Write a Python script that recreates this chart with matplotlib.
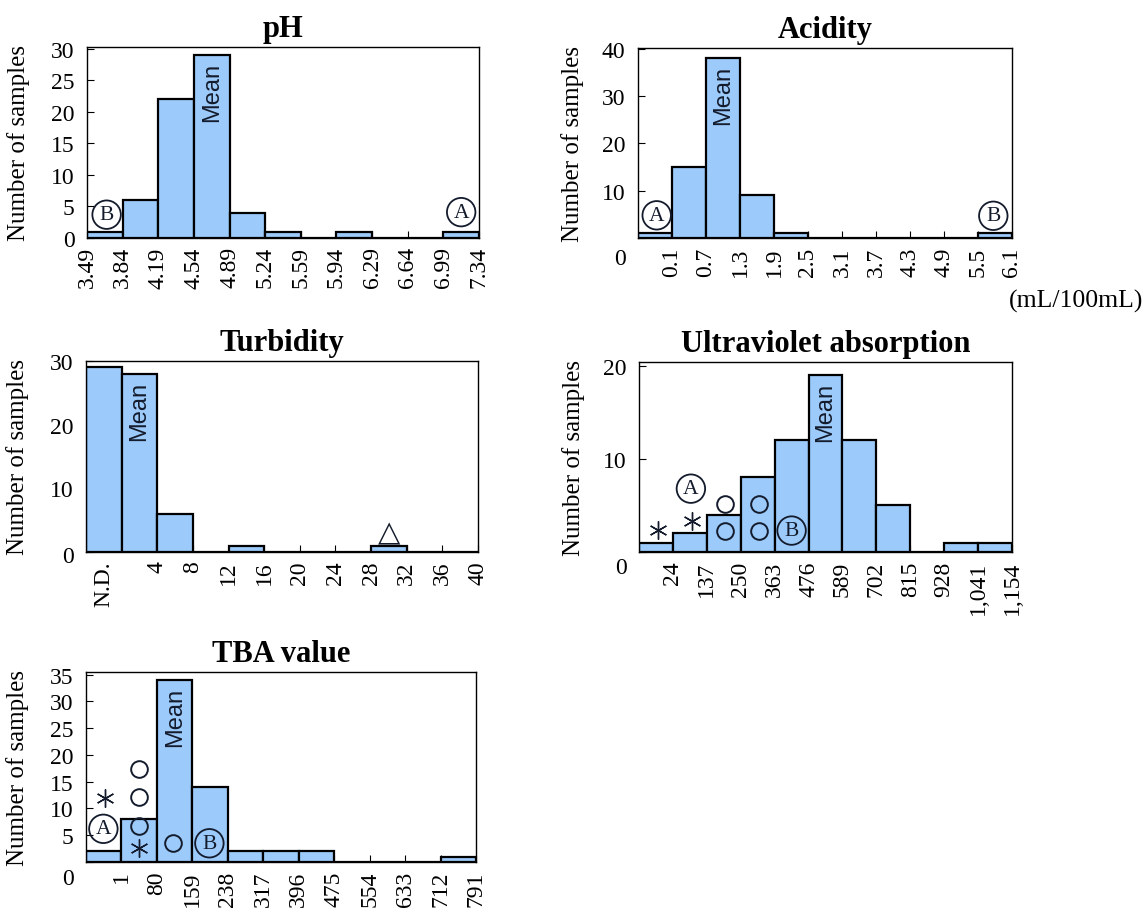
import numpy as np
import matplotlib
matplotlib.use("Agg")
import matplotlib.pyplot as plt
from matplotlib.transforms import offset_copy

plt.rcParams['font.family'] = ['Liberation Serif', 'DejaVu Serif']

# -----------------------------
# Histogram counts (11 classes per item, 65 samples each)
# -----------------------------
ph_counts = [1, 6, 22, 29, 4, 1, 0, 1, 0, 0, 1]
ph_labels = ['3.49', '3.84', '4.19', '4.54', '4.89', '5.24', '5.59',
             '5.94', '6.29', '6.64', '6.99', '7.34']

acid_counts = [1, 15, 38, 9, 1, 0, 0, 0, 0, 0, 1]
acid_labels = ['0.1', '0.7', '1.3', '1.9', '2.5', '3.1', '3.7', '4.3',
               '4.9', '5.5', '6.1']

turb_counts = [29, 28, 6, 0, 1, 0, 0, 0, 1, 0, 0]
turb_labels = ['N.D.', '4', '8', '12', '16', '20', '24', '28', '32',
               '36', '40']

uv_counts = [1, 2, 4, 8, 12, 19, 12, 5, 0, 1, 1]
uv_labels = ['24', '137', '250', '363', '476', '589', '702', '815',
             '928', '1,041', '1,154']

tba_counts = [2, 8, 34, 14, 2, 2, 2, 0, 0, 0, 1]
tba_labels = ['1', '80', '159', '238', '317', '396', '475', '554',
              '633', '712', '791']

BAR_COLOR = '#9ccafa'
INK = '#131b2c'
W, H = 1146, 912

fig = plt.figure(figsize=(W / 100, H / 100), dpi=100)


def make_axes(left, top, right, bottom):
    return fig.add_axes([left / W, 1 - bottom / H, (right - left) / W,
                         (bottom - top) / H])


def histogram(ax, title, counts, tick_pos, tick_labels, ymax, yticks,
              mean_bin, zero_drop=0):
    x = np.arange(len(counts))
    ax.bar(x, counts, width=1, align='edge', color=BAR_COLOR,
           edgecolor='black', linewidth=1.6, zorder=2)
    ax.set_xlim(0, len(counts))
    ax.set_ylim(0, ymax)

    ax.set_xticks(tick_pos)
    ax.set_xticklabels(tick_labels, rotation=90, fontsize=17)
    ax.set_yticks(yticks)
    ylabels = [str(v) for v in yticks]
    if zero_drop:
        ylabels[0] = ''
    ax.set_yticklabels(ylabels, fontsize=17)
    ax.tick_params(direction='in', length=5, width=0.8)
    ax.tick_params(axis='x', pad=6)
    ax.tick_params(axis='y', pad=9)
    for s in ax.spines.values():
        s.set_linewidth(1.0)

    if zero_drop:
        trans = offset_copy(ax.get_yaxis_transform(), fig=fig,
                            x=-9, y=-zero_drop, units='points')
        ax.text(0, 0, '0', transform=trans, ha='right', va='center',
                fontsize=17)

    ax.set_title(title, fontsize=22, fontweight='bold', pad=8)
    ax.set_ylabel('Number of samples', fontsize=18)
    ax.yaxis.set_label_coords(-0.145, 0.5)

    ax.annotate('Mean', xy=(mean_bin + 0.5, counts[mean_bin]),
                xytext=(0, -5), textcoords='offset points', rotation=90,
                ha='center', va='top', fontsize=17,
                family='Liberation Sans', color=INK, zorder=3)


def circled(ax, x, y, letter):
    ax.text(x, y, letter, ha='center', va='center', fontsize=15.5,
            color=INK, zorder=4,
            bbox=dict(boxstyle='circle,pad=0.22', fc='none', ec=INK,
                      lw=1.3))


def rings(ax, xs, ys):
    ax.plot(xs, ys, 'o', ms=12, mfc='none', mec=INK, mew=1.4,
            ls='none', zorder=4)


def stars(ax, xs, ys):
    ax.plot(xs, ys, marker=(6, 2, 0), ms=13, mec=INK, mew=1.0,
            ls='none', zorder=4)


# pH
ax = make_axes(87, 48, 479, 239)
histogram(ax, 'pH', ph_counts, np.arange(12), ph_labels, 30.3,
          [0, 5, 10, 15, 20, 25, 30], mean_bin=3)
circled(ax, 0.55, 3.7, 'B')
circled(ax, 10.5, 4.1, 'A')

# Acidity
ax = make_axes(638, 49, 1012, 239)
histogram(ax, 'Acidity', acid_counts, np.arange(1, 12), acid_labels, 40.2,
          [0, 10, 20, 30, 40], mean_bin=2, zero_drop=15)
circled(ax, 0.55, 4.8, 'A')
circled(ax, 10.45, 4.7, 'B')
fig.text(1143 / W, 1 - 301 / H, '(mL/100mL)', ha='right', va='center',
         fontsize=18.5)

# Turbidity
ax = make_axes(86, 362, 478, 553)
histogram(ax, 'Turbidity', turb_counts, np.r_[0.5, np.arange(2, 12)],
          turb_labels, 30, [0, 10, 20, 30], mean_bin=1, zero_drop=3)
ax.text(8.5, 3.1, '\u25b3', ha='center', va='center', fontsize=21,
        family='DejaVu Sans', color=INK)

# Ultraviolet absorption
ax = make_axes(639, 363, 1012, 553)
histogram(ax, 'Ultraviolet absorption', uv_counts, np.arange(1, 12),
          uv_labels, 20.4, [0, 10, 20], mean_bin=5, zero_drop=11)
stars(ax, [0.57, 1.55], [2.4, 3.3])
circled(ax, 1.53, 6.8, 'A')
rings(ax, [2.54, 2.54, 3.54, 3.54], [5.15, 2.25, 5.2, 2.3])
circled(ax, 4.5, 2.3, 'B')

# TBA value
ax = make_axes(86, 673, 476, 863)
histogram(ax, 'TBA value', tba_counts, np.arange(1, 12), tba_labels, 35.5,
          [0, 5, 10, 15, 20, 25, 30, 35], mean_bin=2, zero_drop=12)
circled(ax, 0.49, 6.2, 'A')
stars(ax, [0.54, 1.5], [11.9, 2.6])
rings(ax, [1.5, 1.5, 1.5, 2.46], [6.8, 12.1, 17.3, 3.5])
circled(ax, 3.48, 3.5, 'B')

fig.savefig('out.png', dpi=100)
